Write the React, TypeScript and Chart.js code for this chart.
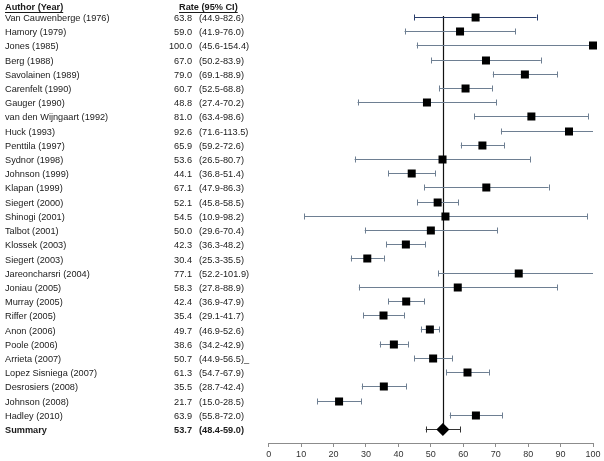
import React, { useEffect, useRef } from "react";
import { Chart, registerables } from "chart.js";

Chart.register(...registerables);

const authors = [
  "Van Cauwenberge (1976)", "Hamory (1979)", "Jones (1985)", "Berg (1988)",
  "Savolainen (1989)", "Carenfelt (1990)", "Gauger (1990)", "van den Wijngaart (1992)",
  "Huck (1993)", "Penttila (1997)", "Sydnor (1998)", "Johnson (1999)", "Klapan (1999)",
  "Siegert (2000)", "Shinogi (2001)", "Talbot (2001)", "Klossek (2003)", "Siegert (2003)",
  "Jareoncharsri (2004)", "Joniau (2005)", "Murray (2005)", "Riffer (2005)", "Anon (2006)",
  "Poole (2006)", "Arrieta (2007)", "Lopez Sisniega (2007)", "Desrosiers (2008)",
  "Johnson (2008)", "Hadley (2010)",
];
const rates = [63.8, 59.0, 100.0, 67.0, 79.0, 60.7, 48.8, 81.0, 92.6, 65.9, 53.6, 44.1, 67.1,
  52.1, 54.5, 50.0, 42.3, 30.4, 77.1, 58.3, 42.4, 35.4, 49.7, 38.6, 50.7, 61.3, 35.5, 21.7, 63.9];
const lower = [44.9, 41.9, 45.6, 50.2, 69.1, 52.5, 27.4, 63.4, 71.6, 59.2, 26.5, 36.8, 47.9,
  45.8, 10.9, 29.6, 36.3, 25.3, 52.2, 27.8, 36.9, 29.1, 46.9, 34.2, 44.9, 54.7, 28.7, 15.0, 55.8];
const upper = [82.6, 76.0, 154.4, 83.9, 88.9, 68.8, 70.2, 98.6, 113.5, 72.6, 80.7, 51.4, 86.3,
  58.5, 98.2, 70.4, 48.2, 35.5, 101.9, 88.9, 47.9, 41.7, 52.6, 42.9, 56.5, 67.9, 42.4, 28.5, 72.0];
const ciSuffix = ["", "", "", "", "", "", "", "", "", "", "", "", "", "", "", "", "", "", "", "", "", "", "", "", "_", "", "", "", ""];
const summaryLabel = "Summary";
const summaryRate = 53.7;
const summaryLower = 48.4;
const summaryUpper = 59.0;
const xTicks = [0, 10, 20, 30, 40, 50, 60, 70, 80, 90, 100];

const FONT = "'Liberation Sans', Arial, sans-serif";
const FS = 9.2;

const forestPlugin = {
  id: "forest",
  afterDatasetsDraw(chart: any) {
    const ctx = chart.ctx;
    const xs = chart.scales.x;
    const ys = chart.scales.y;
    const area = chart.chartArea;
    const n = authors.length;
    ctx.save();
    // summary vertical line
    ctx.strokeStyle = "#111";
    ctx.lineWidth = 1.2;
    const sx = Math.round(xs.getPixelForValue(summaryRate)) + 0.5;
    ctx.beginPath();
    ctx.moveTo(sx, ys.getPixelForValue(0) - 1);
    ctx.lineTo(sx, ys.getPixelForValue(n));
    ctx.stroke();

    const bar = (lo: number, hi: number, y: number, color: string) => {
      const x1 = xs.getPixelForValue(lo);
      const x2 = Math.min(xs.getPixelForValue(hi), area.right);
      ctx.strokeStyle = color;
      ctx.lineWidth = 1;
      const yy = Math.round(y) + 0.5;
      ctx.beginPath();
      ctx.moveTo(x1, yy);
      ctx.lineTo(x2, yy);
      ctx.moveTo(Math.round(x1) + 0.5, yy - 3);
      ctx.lineTo(Math.round(x1) + 0.5, yy + 3);
      if (hi <= 100) {
        ctx.moveTo(Math.round(x2) + 0.5, yy - 3);
        ctx.lineTo(Math.round(x2) + 0.5, yy + 3);
      }
      ctx.stroke();
    };
    for (let i = 0; i < n; i++) {
      bar(lower[i], upper[i], ys.getPixelForValue(i), i === 0 ? "#2b3f6c" : "#6e7f92");
    }
    bar(summaryLower, summaryUpper, ys.getPixelForValue(n), "#333");

    // markers
    ctx.fillStyle = "#000";
    for (let i = 0; i < n; i++) {
      const px = xs.getPixelForValue(rates[i]);
      const py = Math.round(ys.getPixelForValue(i)) + 0.5;
      ctx.fillRect(px - 4, py - 4, 8, 8);
    }
    const dx = xs.getPixelForValue(summaryRate);
    const dy = Math.round(ys.getPixelForValue(n)) + 0.5;
    ctx.beginPath();
    ctx.moveTo(dx - 6.5, dy);
    ctx.lineTo(dx, dy - 6.5);
    ctx.lineTo(dx + 6.5, dy);
    ctx.lineTo(dx, dy + 6.5);
    ctx.closePath();
    ctx.fill();

    // text columns
    ctx.textBaseline = "middle";
    ctx.fillStyle = "#1a1a1a";
    const drawRow = (label: string, rate: number, lo: number, hi: number, suffix: string, y: number, bold: boolean) => {
      ctx.font = (bold ? "bold " : "") + FS + "px " + FONT;
      ctx.textAlign = "left";
      ctx.fillText(label, 5, y);
      ctx.textAlign = "right";
      ctx.fillText(rate.toFixed(1), 192, y);
      ctx.textAlign = "left";
      ctx.fillText("(" + lo.toFixed(1) + "-" + hi.toFixed(1) + ")" + suffix, 199, y);
    };
    for (let i = 0; i < n; i++) {
      drawRow(authors[i], rates[i], lower[i], upper[i], ciSuffix[i], ys.getPixelForValue(i) + 1.5, false);
    }
    drawRow(summaryLabel, summaryRate, summaryLower, summaryUpper, "", ys.getPixelForValue(n) + 1.5, true);

    // headers
    ctx.font = "bold " + FS + "px " + FONT;
    ctx.textAlign = "left";
    const h1 = "Author (Year)";
    const h2 = "Rate (95% CI)";
    const hy = 7;
    ctx.fillText(h1, 5, hy);
    const h2x = 179;
    ctx.fillText(h2, h2x, hy);
    ctx.strokeStyle = "#1a1a1a";
    ctx.lineWidth = 1;
    const w1 = ctx.measureText(h1).width;
    const w2 = ctx.measureText(h2).width;
    ctx.beginPath();
    ctx.moveTo(5, 12.5);
    ctx.lineTo(5 + w1, 12.5);
    ctx.moveTo(h2x, 12.5);
    ctx.lineTo(h2x + w2, 12.5);
    ctx.stroke();
    ctx.restore();
  },
};

export default function App() {
  const ref = useRef<HTMLCanvasElement>(null);
  useEffect(() => {
    if (!ref.current) return;
    const chart = new Chart(ref.current, {
      type: "scatter",
      data: {
        datasets: [
          {
            data: rates.map((r, i) => ({ x: r, y: i })),
            pointRadius: 0,
            showLine: false,
            clip: false as any,
          },
        ],
      },
      options: {
        animation: false,
        responsive: false,
        layout: { padding: { left: 268.7, right: 11, top: 10, bottom: 0 } },
        plugins: { legend: { display: false }, tooltip: { enabled: false } },
        scales: {
          x: {
            type: "linear",
            min: 0,
            max: 100,
            afterBuildTicks: (axis: any) => {
              axis.ticks = xTicks.map((v) => ({ value: v }));
            },
            afterFit: (axis: any) => {
              axis.height = 18;
            },
            border: { display: true, color: "#8c8c8c", width: 1 },
            grid: { drawOnChartArea: false, drawTicks: true, tickLength: 4, color: "#8c8c8c" },
            ticks: { color: "#333", font: { size: 9, family: FONT }, padding: 2, maxRotation: 0 },
          },
          y: {
            type: "linear",
            display: false,
            reverse: true,
            min: -0.49,
            max: 29.99,
          },
        },
      },
      plugins: [forestPlugin],
    });
    return () => chart.destroy();
  }, []);
  return (
    <div style={{ position: "fixed", left: 0, top: 0, width: 604, height: 461, background: "#fff" }}>
      <canvas ref={ref} width={604} height={461} style={{ display: "block" }} />
    </div>
  );
}
